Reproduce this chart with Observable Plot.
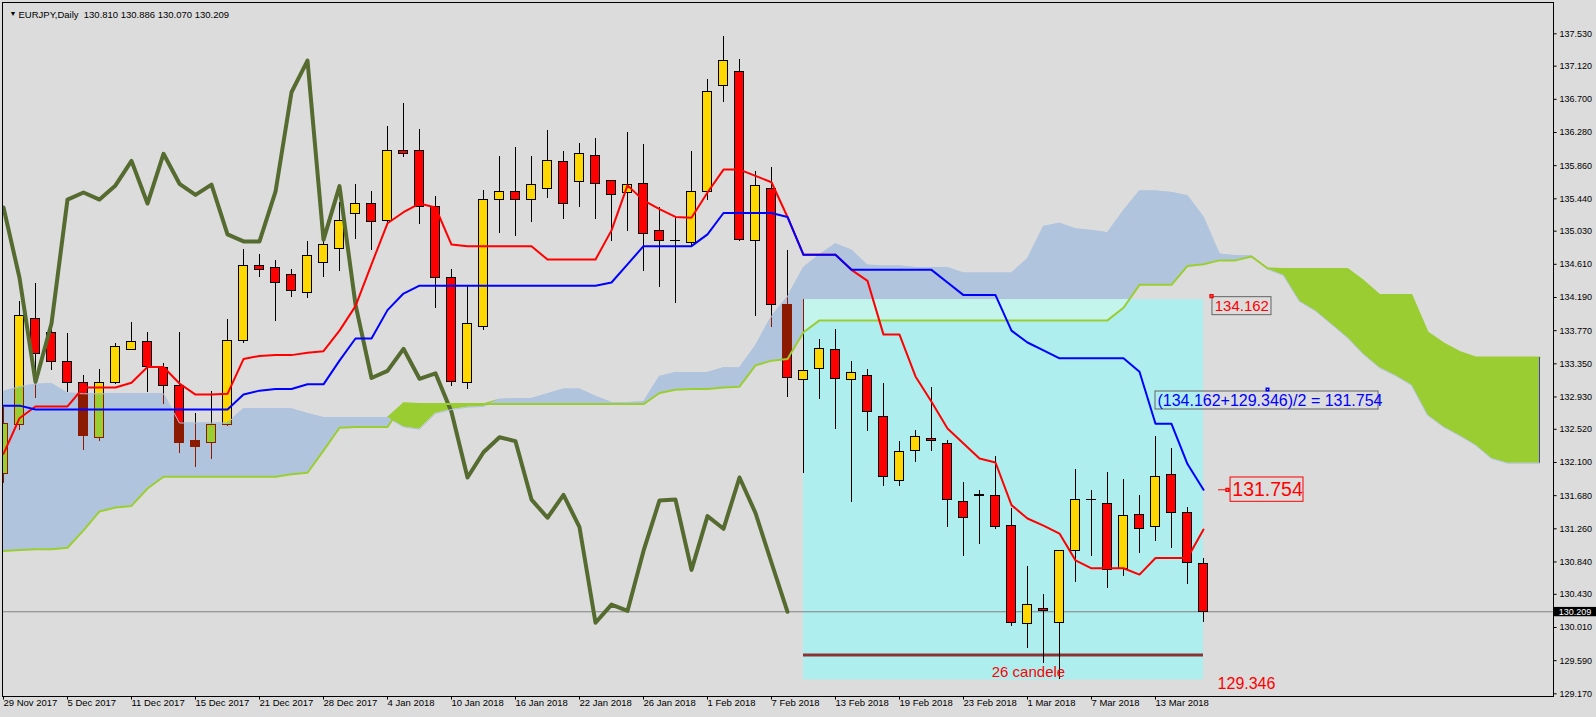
<!DOCTYPE html>
<html><head><meta charset="utf-8">
<script src="https://cdn.jsdelivr.net/npm/d3@7"></script>
<script src="https://cdn.jsdelivr.net/npm/@observablehq/plot@0.6"></script>
<style>
html,body{margin:0;padding:0;background:#dcdcdc;}
#chart svg{display:block;}
</style></head><body><div id="chart"></div>
<script>
// ---------- data ----------
const dates = ["29 Nov 2017","30 Nov 2017","1 Dec 2017","4 Dec 2017","5 Dec 2017","6 Dec 2017","7 Dec 2017","8 Dec 2017","11 Dec 2017","12 Dec 2017","13 Dec 2017","14 Dec 2017","15 Dec 2017","18 Dec 2017","19 Dec 2017","20 Dec 2017","21 Dec 2017","22 Dec 2017","26 Dec 2017","27 Dec 2017","28 Dec 2017","29 Dec 2017","2 Jan 2018","3 Jan 2018","4 Jan 2018","5 Jan 2018","8 Jan 2018","9 Jan 2018","10 Jan 2018","11 Jan 2018","12 Jan 2018","15 Jan 2018","16 Jan 2018","17 Jan 2018","18 Jan 2018","19 Jan 2018","22 Jan 2018","23 Jan 2018","24 Jan 2018","25 Jan 2018","26 Jan 2018","29 Jan 2018","30 Jan 2018","31 Jan 2018","1 Feb 2018","2 Feb 2018","5 Feb 2018","6 Feb 2018","7 Feb 2018","8 Feb 2018","9 Feb 2018","12 Feb 2018","13 Feb 2018","14 Feb 2018","15 Feb 2018","16 Feb 2018","19 Feb 2018","20 Feb 2018","21 Feb 2018","22 Feb 2018","23 Feb 2018","26 Feb 2018","27 Feb 2018","28 Feb 2018","1 Mar 2018","2 Mar 2018","5 Mar 2018","6 Mar 2018","7 Mar 2018","8 Mar 2018","9 Mar 2018","12 Mar 2018","13 Mar 2018","14 Mar 2018","15 Mar 2018","16 Mar 2018"];
const open  = [131.95,132.58,133.92,133.74,133.37,133.11,132.41,133.11,133.53,133.63,133.30,133.07,132.37,132.35,132.57,133.64,134.59,134.56,134.48,134.25,134.63,134.81,135.25,135.37,135.16,136.05,136.04,135.33,134.44,133.11,133.81,135.43,135.53,135.42,135.57,135.90,135.65,135.98,135.66,135.51,135.63,135.03,134.91,134.88,135.52,136.87,137.04,134.91,135.57,134.09,133.15,133.29,133.53,133.14,133.20,132.67,131.86,132.24,132.40,132.34,131.60,131.67,131.67,131.29,130.05,130.25,130.07,130.98,131.62,131.58,130.75,131.44,131.28,131.94,131.46,130.810];
const high  = [132.80,134.14,134.37,133.95,133.74,133.20,133.28,133.61,133.87,133.75,133.35,133.75,132.72,133.00,133.91,134.80,134.74,134.66,134.55,134.90,135.05,135.39,135.62,135.53,136.36,136.65,136.32,135.47,134.54,134.34,135.54,135.98,136.09,135.98,136.31,136.04,136.14,136.20,135.67,136.28,136.13,135.33,135.21,136.04,136.95,137.49,137.20,135.79,135.84,134.79,134.162,133.66,133.78,133.38,133.28,133.10,132.37,132.51,133.05,132.38,131.85,131.74,132.17,131.52,130.78,130.43,130.99,132.01,131.74,131.97,131.88,131.68,132.43,132.28,131.53,130.886];
const low   = [131.84,132.50,132.91,133.26,132.99,132.25,132.36,133.09,133.52,132.99,132.83,132.22,132.04,132.14,132.56,133.61,134.44,133.89,134.19,134.18,134.44,134.52,134.92,134.79,135.12,135.96,135.12,134.05,133.06,133.03,133.77,135.00,134.96,135.14,135.44,135.18,135.33,135.18,134.90,135.03,134.52,134.32,134.12,134.83,135.42,136.66,134.90,133.95,133.81,132.92,131.96,132.90,132.52,131.59,132.49,131.80,131.79,132.10,132.24,131.28,130.91,131.06,131.25,130.02,129.74,129.55,129.346,130.58,130.91,130.50,130.65,130.95,131.10,131.01,130.55,130.070];
const close = [132.59,133.95,133.47,133.37,133.11,132.44,133.11,133.56,133.63,133.31,133.07,132.35,132.30,132.58,133.64,134.59,134.54,134.37,134.27,134.72,134.86,135.16,135.38,135.15,136.05,136.01,135.33,134.44,133.12,133.86,135.43,135.52,135.43,135.61,135.92,135.38,136.01,135.63,135.49,135.62,134.99,134.90,134.90,135.53,136.79,137.19,134.92,135.60,134.10,133.17,133.26,133.54,133.16,133.23,132.74,131.91,132.23,132.42,132.37,131.63,131.40,131.69,131.28,130.07,130.30,130.22,130.98,131.62,131.63,130.74,131.42,131.26,131.91,131.46,130.83,130.209];

// Ichimoku lines
const tenkan = [132.21,132.66,132.81,132.81,132.81,133.05,133.05,133.05,133.11,133.31,133.31,133.10,132.96,132.96,132.97,133.41,133.45,133.46,133.46,133.49,133.51,133.77,134.08,134.61,135.13,135.27,135.38,135.33,134.86,134.84,134.84,134.84,134.84,134.84,134.67,134.67,134.67,134.67,135.04,135.61,135.42,135.31,135.21,135.20,135.52,135.81,135.81,135.73,135.65,135.21,134.73,134.73,134.73,134.54,134.40,133.72,133.72,133.19,132.87,132.53,132.34,132.15,132.10,131.56,131.39,131.30,131.20,130.86,130.76,130.76,130.76,130.68,130.89,130.89,130.89,131.25];
const kijun = [132.82,132.82,132.77,132.77,132.77,132.77,132.77,132.77,132.77,132.77,132.77,132.77,132.77,132.77,132.77,132.96,133.01,133.03,133.03,133.09,133.09,133.39,133.67,133.67,134.03,134.24,134.34,134.34,134.34,134.34,134.34,134.34,134.34,134.34,134.34,134.34,134.34,134.34,134.38,134.61,134.84,134.84,134.84,134.84,134.99,135.26,135.26,135.26,135.26,135.21,134.73,134.73,134.73,134.54,134.54,134.54,134.54,134.54,134.54,134.38,134.22,134.22,134.22,133.77,133.62,133.52,133.42,133.42,133.42,133.42,133.42,133.25,132.59,132.59,132.08,131.754];
const spanA = [133.00,133.06,133.09,133.10,132.98,132.97,132.97,132.97,132.97,132.97,
 132.97,132.60,132.60,132.60,132.60,132.78,132.78,132.78,132.78,132.72,
 132.67,132.67,132.67,132.67,132.67,132.55,132.52,132.72,132.77,132.80,
 132.81,132.90,132.91,132.91,132.97,133.03,133.03,132.94,132.86,132.86,
 132.87,133.19,133.24,133.24,133.24,133.30,133.30,133.58,133.95,134.20,
 134.57,134.73,134.87,134.79,134.60,134.59,134.59,134.57,134.57,134.57,
 134.50,134.50,134.50,134.50,134.68,135.09,135.13,135.06,135.04,135.01,
 135.29,135.54,135.54,135.52,135.48,135.21,134.74,134.72,134.72,134.55,
 134.47,134.14,134.02,133.85,133.68,133.47,133.30,133.20,133.08,132.70,
 132.55,132.44,132.32,132.15,132.09,132.09,132.09];
const spanB = [130.98,130.99,131.00,131.00,131.02,131.24,131.48,131.53,131.55,131.77,
 131.92,131.92,131.92,131.92,131.92,131.92,131.92,131.92,131.95,131.97,
 132.25,132.54,132.55,132.55,132.55,132.85,132.84,132.84,132.84,132.84,
 132.84,132.84,132.84,132.84,132.84,132.84,132.84,132.84,132.84,132.84,
 132.84,132.98,133.02,133.03,133.03,133.05,133.06,133.33,133.39,133.41,
 133.75,133.90,133.90,133.90,133.90,133.90,133.90,133.90,133.90,133.90,
 133.90,133.90,133.90,133.90,133.90,133.90,133.90,133.90,133.90,133.90,
 134.06,134.35,134.35,134.35,134.59,134.61,134.66,134.66,134.71,134.56,
 134.55,134.55,134.55,134.55,134.55,134.40,134.22,134.22,134.22,133.75,
 133.61,133.50,133.43,133.43,133.43,133.43,133.43];
const chikou = [135.33,134.44,133.12,133.86,135.43,135.52,135.43,135.61,135.92,135.38,136.01,135.63,135.49,135.62,134.99,134.90,134.90,135.53,136.79,137.19,134.92,135.60,134.10,133.17,133.26,133.54,133.16,133.23,132.74,131.91,132.23,132.42,132.37,131.63,131.40,131.69,131.28,130.07,130.30,130.22,130.98,131.62,131.63,130.74,131.42,131.26,131.91,131.46,130.83,130.209];

// axes
const yTicks = [137.53,137.12,136.70,136.28,135.86,135.44,135.03,134.61,134.19,133.77,133.35,132.93,132.52,132.10,131.68,131.26,130.84,130.43,130.01,129.59,129.17];
const xTickIdx = [0,4,8,12,16,20,24,28,32,36,40,44,48,52,56,60,64,68,72];

// annotation values
const rangeHigh = 134.162, rangeLow = 129.346, rangeFrom = 50, rangeTo = 75;
const rangeMid = (rangeHigh + rangeLow) / 2;
const floorLevel = 129.66;
const symbol = "EURJPY", period = "Daily";

// ---------- tables ----------
const candles = dates.map((d, i) => ({i, date: d, open: open[i], high: high[i], low: low[i], close: close[i]}));
const lines = tenkan.map((t, i) => ({i, t, k: kijun[i]}));
const kumo = spanA.map((a, i) => ({i, a, b: spanB[i]}));
const lag = chikou.map((v, i) => ({i, v}));
const last = candles[candles.length - 1];
const box = [{from: rangeFrom, to: rangeTo, lo: rangeLow, hi: rangeHigh}];

const yMin = 129.1358, yMax = 137.9265;
const bull = d => d.close >= d.open;

const chart = Plot.plot({
  width: 1596, height: 717,
  marginLeft: 2, marginRight: 43, marginTop: 2, marginBottom: 21,
  style: {background: "#dcdcdc", fontFamily: "'Liberation Sans', Arial, sans-serif", fontSize: "9px", color: "#000", overflow: "visible"},
  x: {type: "linear", domain: [-1 / 16, 1550 / 16], axis: null},
  y: {domain: [yMin, yMax], axis: null},
  marks: [
    // cloud
    Plot.areaY(kumo, {x: "i", y1: "b", y2: d => Math.max(d.a, d.b), fill: "#b0c4de", ariaDescription: "kumo-blue"}),
    Plot.areaY(kumo, {x: "i", y1: "a", y2: d => Math.max(d.a, d.b), fill: "#9acd32"}),
    // range rectangle
    Plot.rect(box, {x1: "from", x2: "to", y1: "lo", y2: "hi", fill: "#afeeee"}),
    Plot.rect(box, {x1: "from", x2: "to", y1: "lo", y2: "hi", fill: "#c4f5ec", ariaDescription: "box-mint"}),
    Plot.ruleY([floorLevel], {x1: rangeFrom, x2: rangeTo, y: d => d, stroke: "#8c3232", strokeWidth: 3}),
    // current price line
    Plot.ruleY([last.close], {stroke: "#808080", strokeWidth: 1}),
    // candles
    Plot.ruleX(candles, {x: "i", y1: "low", y2: "high", stroke: "#000", shapeRendering: "crispEdges", clip: true}),
    Plot.rect(candles, {x1: d => d.i - 0.28, x2: d => d.i + 0.28, y1: "open", y2: "close",
      fill: d => bull(d) ? "#ffd700" : "#ff0000", stroke: "#000", strokeWidth: 1, shapeRendering: "crispEdges", clip: true}),
    // candle parts inside the cloud (recoloured)
    Plot.ruleX(candles, {x: "i", y1: "low", y2: "high", stroke: "#8b1a00", shapeRendering: "crispEdges", clip: true, ariaDescription: "alt-wick"}),
    Plot.rect(candles, {x1: d => d.i - 0.28, x2: d => d.i + 0.28, y1: "open", y2: "close",
      fill: d => bull(d) ? "#9acd32" : "#8b1a00", stroke: "#8b1a00", strokeWidth: 1, shapeRendering: "crispEdges", clip: true, ariaDescription: "alt-body"}),
    // Ichimoku lines
    Plot.line(lag, {x: "i", y: "v", stroke: "#556b2f", strokeWidth: 4, clip: true}),
    Plot.line(kumo, {x: "i", y: "a", stroke: "#b0c4de", strokeWidth: 1}),
    Plot.line(kumo, {x: "i", y: "b", stroke: "#9acd32", strokeWidth: 2}),
    Plot.line(lines, {x: "i", y: "t", stroke: "#ff0000", strokeWidth: 2}),
    Plot.line(lines, {x: "i", y: "k", stroke: "#0000ff", strokeWidth: 2}),
    Plot.ruleX([kumo[kumo.length - 1]], {x: "i", y1: "a", y2: "b", stroke: "#4b3cb4"}),
    // frame
    Plot.frame({stroke: "#000"}),
    // y axis
    Plot.ruleY(yTicks, {y: d => d, x1: 96.875, x2: 97.1, stroke: "#000"}),
    Plot.text(yTicks, {y: d => d, x: 97.25, text: d => d.toFixed(3), textAnchor: "start", fill: "#000"}),
    Plot.rect([last.close], {x1: 96.94, x2: 99.8, y1: d => d - 0.063, y2: d => d + 0.055, fill: "#000"}),
    Plot.text([last.close], {y: d => d, x: 97.2, text: d => d.toFixed(3), textAnchor: "start", fill: "#fff"}),
    // x axis
    Plot.ruleX(xTickIdx, {x: d => d, y1: yMin, y2: yMin - 0.045, stroke: "#000"}),
    Plot.text(xTickIdx, {x: d => d, text: d => dates[d], frameAnchor: "bottom", dy: 9, textAnchor: "start", fill: "#000", fontSize: 9.5}),
    // header
    Plot.text(["\u25BC"], {frameAnchor: "top-left", dx: 7, dy: 9, fontSize: 7, textAnchor: "start", fill: "#000"}),
    Plot.text([`${symbol},${period}\u00a0\u00a0${last.open.toFixed(3)} ${last.high.toFixed(3)} ${last.low.toFixed(3)} ${last.close.toFixed(3)}`],
      {frameAnchor: "top-left", dx: 16, dy: 9, textAnchor: "start", fill: "#000", fontSize: 9.5}),
    // annotations: high of the range
    Plot.rect([rangeHigh], {x1: rangeTo + 0.56, x2: rangeTo + 4.25, y1: d => d - 0.196, y2: d => d + 0.032, fill: "none", stroke: "#646464"}),
    Plot.text([rangeHigh], {x: rangeTo + 0.7, y: d => d - 0.085, text: d => d.toFixed(3), textAnchor: "start", fill: "#ff0000", fontSize: 15}),
    Plot.dot([rangeHigh], {x: rangeTo + 0.5, y: d => d + 0.045, symbol: "square", r: 1.6, stroke: "#ff0000", fill: "none"}),
    // formula
    Plot.rect([rangeMid], {x1: rangeTo - 3, x2: rangeTo + 10.94, y1: 132.771, y2: 132.999, fill: "none", stroke: "#646464"}),
    Plot.text([rangeMid], {x: rangeTo - 2.88, y: 132.886, text: d => `(${rangeHigh.toFixed(3)}+${rangeLow.toFixed(3)})/2 = ${d.toFixed(3)}`, textAnchor: "start", fill: "#0000ff", fontSize: 16}),
    Plot.dot([rangeMid], {x: rangeTo + 4, y: 133.025, symbol: "square", r: 1.4, stroke: "#0000ff", fill: "none"}),
    // mid level
    Plot.ruleY([rangeMid], {x1: rangeTo + 0.94, x2: rangeTo + 1.69, y: d => d, stroke: "#ff0000"}),
    Plot.dot([rangeMid], {x: rangeTo + 1.5, y: d => d, symbol: "square", r: 1.6, stroke: "#ff0000", fill: "#dcdcdc"}),
    Plot.rect([rangeMid], {x1: rangeTo + 1.69, x2: rangeTo + 6.25, y1: d => d - 0.152, y2: d => d + 0.156, fill: "none", stroke: "#ff0000"}),
    Plot.text([rangeMid], {x: rangeTo + 1.8, y: d => d, text: d => d.toFixed(3), textAnchor: "start", fill: "#ff0000", fontSize: 19.5}),
    // low of the range and count
    Plot.text([rangeLow], {x: rangeTo + 0.88, y: d => d - 0.05, text: d => d.toFixed(3), textAnchor: "start", fill: "#ff0000", fontSize: 16}),
    Plot.text([rangeTo - rangeFrom + 1], {x: (rangeFrom + rangeTo) / 2 + 1.56, y: rangeLow + 0.10, text: d => `${d} candele`, textAnchor: "middle", fill: "#ff0000", fontSize: 15})
  ]
});

document.getElementById("chart").appendChild(chart);

// clip recoloured layers to the blue cloud
(function () {
  const svg = d3.select(chart.tagName.toLowerCase() === "svg" ? chart : chart.querySelector("svg"));
  const blue = svg.select('g[aria-description="kumo-blue"]');
  if (blue.empty()) return;
  const p = blue.select("path");
  if (p.empty()) return;
  const defs = svg.insert("defs", ":first-child");
  const cp = defs.append("clipPath").attr("id", "kumoClip").attr("clipPathUnits", "userSpaceOnUse");
  const cpath = cp.append("path").attr("d", p.attr("d"));
  if (blue.attr("transform")) cpath.attr("transform", blue.attr("transform"));
  for (const key of ["box-mint", "alt-wick", "alt-body"]) {
    const g = svg.select(`g[aria-description="${key}"]`);
    if (g.empty()) continue;
    const node = g.node();
    const wrap = document.createElementNS("http://www.w3.org/2000/svg", "g");
    wrap.setAttribute("clip-path", "url(#kumoClip)");
    node.parentNode.insertBefore(wrap, node);
    wrap.appendChild(node);
  }
})();
</script>
</body></html>
